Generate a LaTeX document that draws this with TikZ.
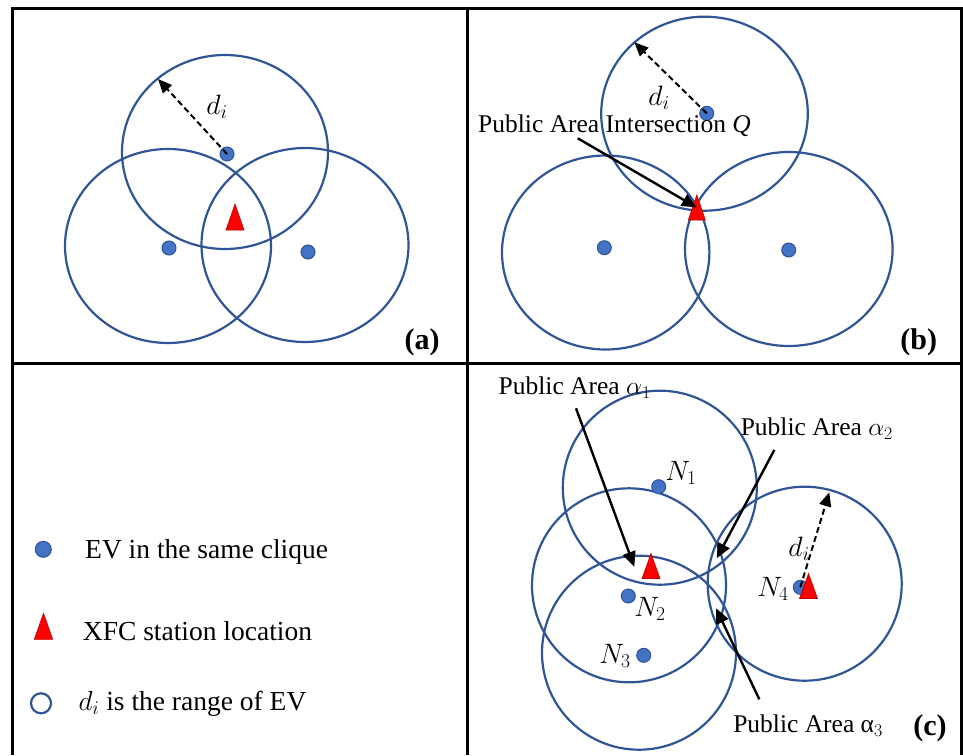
\documentclass[tikz,border=0pt]{standalone}
\usepackage{fix-cm}
\usepackage{fontspec}
\setmainfont{Liberation Serif}
\usetikzlibrary{arrows.meta}
\definecolor{evBlue}{HTML}{4472C4}
\definecolor{rangeBlue}{HTML}{2F5597}
\definecolor{xfcRed}{HTML}{FF0000}
\definecolor{xfcEdge}{HTML}{C00000}
\tikzset{
  frame line/.style={line width=3pt},
  ev range/.style={draw=rangeBlue, line width=2.2pt},
  ev dot/.style={circle, fill=evBlue, draw=rangeBlue, line width=1pt,
    minimum size=14pt, inner sep=0pt},
  xfc/.style={fill=xfcRed, draw=xfcEdge, line width=0.6pt},
  radius arrow/.style={-{Triangle[length=14pt,width=12pt]},
    dash pattern=on 6pt off 3.5pt, line width=2pt},
  pointer/.style={-{Triangle[length=15pt,width=13pt]}, line width=2.4pt},
  label text/.style={font=\fontsize{25.5}{30}\selectfont, inner sep=1pt},
  math label/.style={font=\fontsize{28}{32}\selectfont, inner sep=1pt},
  panel tag/.style={font=\fontsize{30}{34}\selectfont\bfseries, inner sep=0pt},
  legend text/.style={font=\fontsize{27.5}{32}\selectfont, anchor=west,
    inner sep=0pt}
}

\begin{document}
\begin{tikzpicture}[x=1pt,y=-1pt]
  \useasboundingbox (0,0) rectangle (963,755);
  % frame
  \draw[frame line] (12,755) -- (12,8) -- (961,8) -- (961,755);
  \draw[frame line] (467,8) -- (467,755);
  \draw[frame line] (12,363) -- (961,363);

  % (a)
  \draw[ev range] (225,152) ellipse (103 and 97);
  \draw[ev range] (168,246) ellipse (103 and 97);
  \draw[ev range] (305,245) ellipse (103.5 and 97);
  \node[ev dot] (a1) at (227,154) {};
  \node[ev dot] (a2) at (169,248) {};
  \node[ev dot] (a3) at (308,252) {};
  \coordinate (aXfc) at (235,217);
  \draw[xfc] (aXfc) ++(0,-13) -- ++(9,26) -- ++(-18,0) -- cycle;
  \coordinate (aRim) at (158,79);
  \draw[radius arrow] (a1.center) -- (aRim);
  \node[math label] (aD) at (217,107) {$d_i$};
  \node[panel tag] (aTag) at (422,342) {(a)};

  % (b)
  \draw[ev range] (704.5,113.7) ellipse (103.3 and 97);
  \draw[ev range] (605.7,252.5) ellipse (103.7 and 97);
  \draw[ev range] (788.8,249) ellipse (103.8 and 97);
  \node[ev dot] (b1) at (706.7,113.3) {};
  \node[ev dot] (b2) at (604.3,247.7) {};
  \node[ev dot] (b3) at (788.7,250) {};
  \coordinate (bXfc) at (696.8,207.5);
  \draw[xfc] (bXfc) ++(0,-12.5) -- ++(8.5,25) -- ++(-17,0) -- cycle;
  \coordinate (bRim) at (634.3,42.3);
  \draw[radius arrow] (b1.center) -- (bRim);
  \node[math label] (bD) at (659,98) {$d_i$};
  \node[label text] (bQ) at (614.5,126) {Public Area Intersection \textit{Q}};
  \coordinate (bFrom) at (577.7,138.3);
  \draw[pointer] (bFrom) -- (bXfc);
  \node[panel tag] (bTag) at (918.7,342) {(b)};

  % legend
  \node[ev dot, minimum size=16pt] (kDot) at (43.3,549.3) {};
  \node[legend text] (kDotText) at (85,551.7) {EV in the same clique};
  \coordinate (kXfc) at (43.5,626.3);
  \draw[xfc] (kXfc) ++(0,-13) -- ++(9.2,26) -- ++(-18.4,0) -- cycle;
  \node[legend text] (kXfcText) at (82.7,630.7) {XFC station location};
  \node[circle, draw=rangeBlue, line width=2.2pt, minimum size=20pt,
    inner sep=0pt] (kRange) at (41,703.3) {};
  \node[legend text] (kRangeText) at (78.3,703.3) {$d_i$ is the range of EV};

  % (c)
  \draw[ev range] (659.8,487.7) circle (97);
  \draw[ev range] (629,585.3) circle (97);
  \draw[ev range] (639,652.7) circle (97);
  \draw[ev range] (804.7,583.7) circle (97);
  \node[ev dot] (n1) at (658.7,486.7) {};
  \node[ev dot] (n2) at (628.3,596) {};
  \node[ev dot] (n3) at (643.7,655.3) {};
  \node[ev dot] (n4) at (800.3,587.3) {};
  \node[math label] (n1Lab) at (681,473) {$N_1$};
  \node[math label] (n2Lab) at (650,609) {$N_2$};
  \node[math label] (n3Lab) at (615,656) {$N_3$};
  \node[math label] (n4Lab) at (773,589) {$N_4$};
  \coordinate (cXfc1) at (651,566);
  \draw[xfc] (cXfc1) ++(0,-12.5) -- ++(9,25) -- ++(-18,0) -- cycle;
  \coordinate (cXfc2) at (808.5,586);
  \draw[xfc] (cXfc2) ++(0,-12.5) -- ++(9,25) -- ++(-18,0) -- cycle;
  \coordinate (cRim) at (829.3,492.3);
  \draw[radius arrow] (n4.center) -- (cRim);
  \node[math label] (cD) at (799,549) {$d_i$};
  \node[label text] (alpha1) at (574.7,388) {Public Area $\alpha_1$};
  \node[label text] (alpha2) at (816.8,429) {Public Area $\alpha_2$};
  \node[label text] (alpha3) at (808,726) {Public Area α$_3$};
  \coordinate (alpha1From) at (576,408.3);
  \coordinate (alpha1To) at (634.3,566.7);
  \coordinate (alpha2From) at (774.3,450);
  \coordinate (alpha2To) at (716.7,558.3);
  \coordinate (alpha3From) at (759.3,699.3);
  \coordinate (alpha3To) at (716,608.3);
  \draw[pointer] (alpha1From) -- (alpha1To);
  \draw[pointer] (alpha2From) -- (alpha2To);
  \draw[pointer] (alpha3From) -- (alpha3To);
  \node[panel tag] (cTag) at (930,728) {(c)};
\end{tikzpicture}
\end{document}
